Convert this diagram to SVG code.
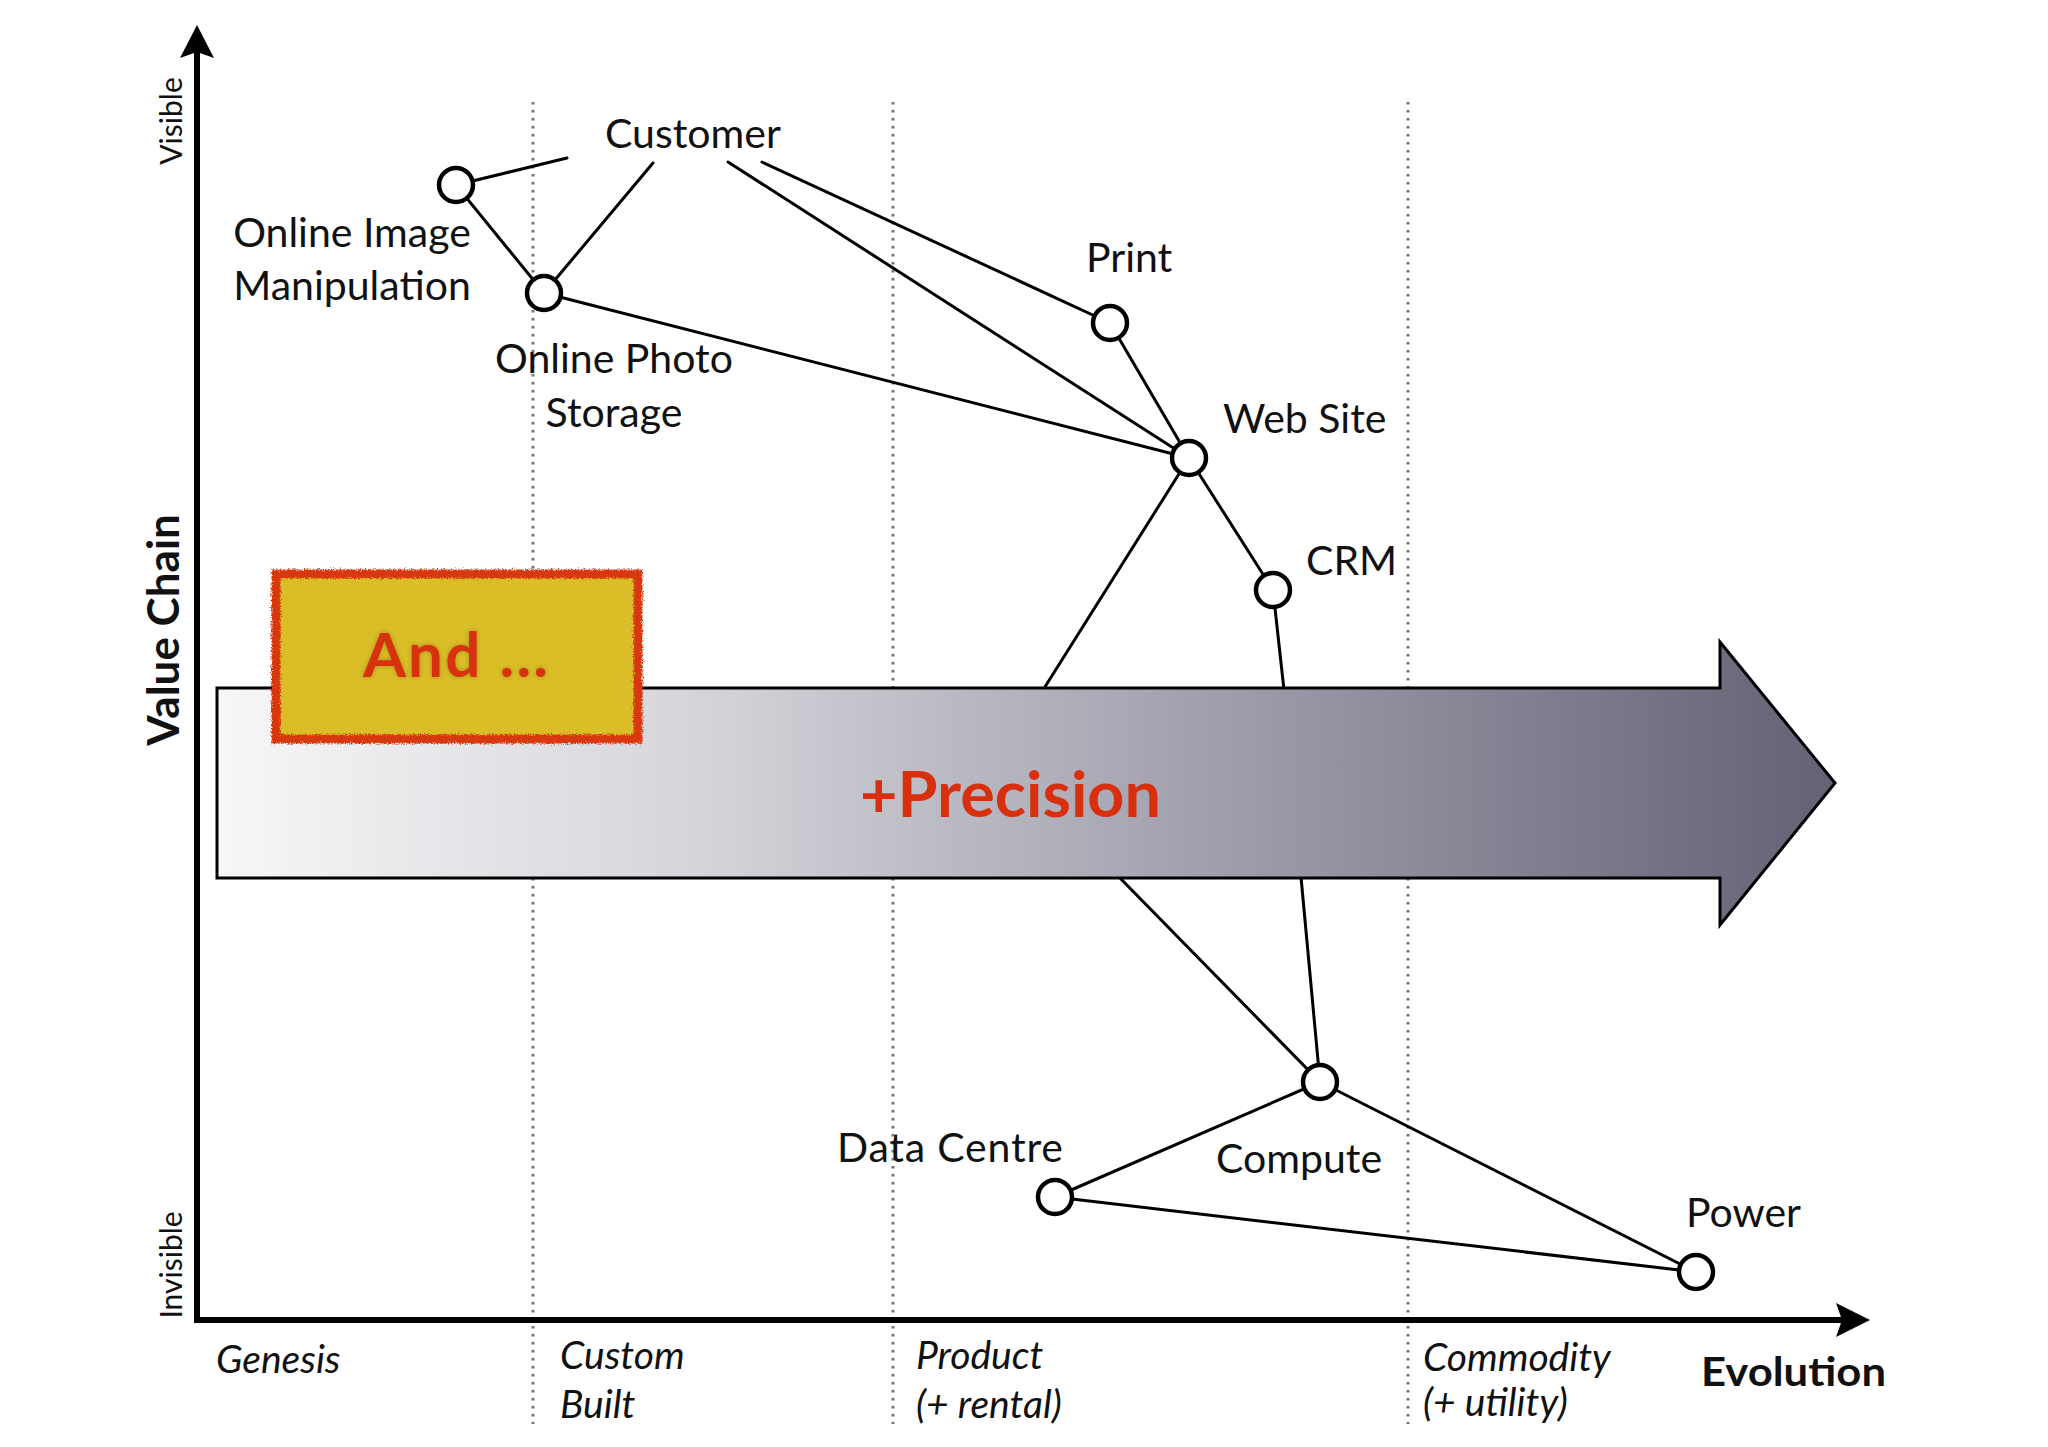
<svg xmlns="http://www.w3.org/2000/svg" width="2048" height="1447" viewBox="0 0 2048 1447">
  <defs>
    <linearGradient id="arrowGrad" gradientUnits="userSpaceOnUse" x1="217" y1="0" x2="1835" y2="0">
      <stop offset="0" stop-color="#f7f7f8"/>
      <stop offset="0.3" stop-color="#d4d4da"/>
      <stop offset="0.6" stop-color="#a2a1ae"/>
      <stop offset="1" stop-color="#636275"/>
    </linearGradient>
    <filter id="rough" x="-5%" y="-10%" width="110%" height="120%">
      <feTurbulence type="fractalNoise" baseFrequency="0.7" numOctaves="2" seed="3" result="noise"/>
      <feDisplacementMap in="SourceGraphic" in2="noise" scale="6" xChannelSelector="R" yChannelSelector="G"/>
    </filter>
    <filter id="glow" x="-10%" y="-20%" width="120%" height="140%">
      <feGaussianBlur in="SourceAlpha" stdDeviation="2.5" result="b"/>
      <feFlood flood-color="#6d6a1c" flood-opacity="0.55"/>
      <feComposite in2="b" operator="in" result="s"/>
      <feMerge><feMergeNode in="s"/><feMergeNode in="SourceGraphic"/></feMerge>
    </filter>
  </defs>
  <style>
    .lbl { font-family: Lato, "Open Sans", "Liberation Sans", sans-serif; font-size: 41px; fill: #111; }
    .stage { font-family: Lato, "Open Sans", "Liberation Sans", sans-serif; font-size: 39px; font-style: italic; fill: #111; }
    .axislbl { font-family: Lato, "Open Sans", "Liberation Sans", sans-serif; font-size: 30px; fill: #111; }
    .axisbold { font-family: Lato, "Open Sans", "Liberation Sans", sans-serif; font-weight: bold; fill: #111; }
    .node { fill: #fff; stroke: #000; stroke-width: 4.5; }
    .link { stroke: #000; stroke-width: 3; fill: none; stroke-linecap: round; }
    .grid { stroke: #777; stroke-width: 3; stroke-dasharray: 2.5 5.5; fill: none; }
    .axis { stroke: #000; stroke-width: 6; fill: none; }
    .red { font-family: "Comic Sans MS", Lato, "Open Sans", sans-serif; font-weight: bold; fill: #d8300e; }
  </style>

  <rect width="2048" height="1447" fill="#fff"/>

  <!-- stage dividers -->
  <g id="grid">
    <line class="grid" x1="533" y1="102" x2="533" y2="1424"/>
    <line class="grid" x1="893" y1="102" x2="893" y2="1424"/>
    <line class="grid" x1="1408" y1="102" x2="1408" y2="1424"/>
  </g>

  <!-- axes -->
  <g id="axes">
    <line class="axis" x1="197" y1="1320" x2="197" y2="50"/>
    <path d="M197,25 L214,58 L197,52 L180,58 Z" fill="#000"/>
    <line class="axis" x1="194" y1="1320" x2="1845" y2="1320"/>
    <path d="M1870,1320 L1836,1303 L1842,1320 L1836,1337 Z" fill="#000"/>
    <text class="axislbl" transform="translate(182,121) rotate(-90)" text-anchor="middle">Visible</text>
    <text class="axislbl" transform="translate(182,1265) rotate(-90)" text-anchor="middle">Invisible</text>
    <text class="axisbold" font-size="44" transform="translate(179,630) rotate(-90)" text-anchor="middle">Value Chain</text>
    <text class="axisbold" font-size="41" x="1701" y="1386" textLength="185" lengthAdjust="spacingAndGlyphs">Evolution</text>
  </g>

  <!-- stage labels -->
  <g id="stages">
    <text class="stage" x="216" y="1373">Genesis</text>
    <text class="stage" x="560" y="1369">Custom</text>
    <text class="stage" x="560" y="1418">Built</text>
    <text class="stage" x="916" y="1369">Product</text>
    <text class="stage" x="916" y="1418">(+ rental)</text>
    <text class="stage" x="1423" y="1371">Commodity</text>
    <text class="stage" x="1423" y="1416">(+ utility)</text>
  </g>

  <!-- connectors -->
  <g id="connectors">
    <line class="link" x1="456" y1="185" x2="567" y2="158"/>
    <line class="link" x1="456" y1="185" x2="544" y2="293"/>
    <line class="link" x1="544" y1="293" x2="653" y2="163"/>
    <line class="link" x1="728" y1="162" x2="1189" y2="458"/>
    <line class="link" x1="762" y1="162" x2="1110" y2="323"/>
    <line class="link" x1="544" y1="293" x2="1189" y2="458"/>
    <line class="link" x1="1110" y1="323" x2="1189" y2="458"/>
    <line class="link" x1="1189" y1="458" x2="1043" y2="690"/>
    <line class="link" x1="1189" y1="458" x2="1273" y2="590"/>
    <line class="link" x1="1273" y1="590" x2="1284" y2="690"/>
    <line class="link" x1="1119" y1="877" x2="1320" y2="1082"/>
    <line class="link" x1="1301" y1="877" x2="1320" y2="1082"/>
    <line class="link" x1="1320" y1="1082" x2="1055" y2="1197"/>
    <line class="link" x1="1320" y1="1082" x2="1696" y2="1272"/>
    <line class="link" x1="1055" y1="1197" x2="1696" y2="1272"/>
  </g>

  <!-- big evolution arrow -->
  <g id="precision-arrow">
    <polygon points="217,688 1720,688 1720,642 1835,783 1720,925 1720,878 217,878" fill="url(#arrowGrad)" stroke="#000" stroke-width="3" stroke-linejoin="miter"/>
    <text class="red" x="860" y="817" font-size="64" textLength="301" lengthAdjust="spacingAndGlyphs">+Precision</text>
  </g>

  <!-- And ... note -->
  <g id="and-note">
    <rect x="276" y="574" width="362" height="165" fill="#dbbe27"/>
    <rect x="276" y="574" width="362" height="165" fill="none" stroke="#d8380f" stroke-width="9" filter="url(#rough)"/>
    <text class="red" x="363" y="677" font-size="62" font-weight="normal" filter="url(#glow)" textLength="185" lengthAdjust="spacing">And ...</text>
  </g>

  <!-- nodes -->
  <g id="node-customer">
    <text class="lbl" x="605" y="148">Customer</text>
  </g>
  <g id="node-online-image-manipulation">
    <circle class="node" cx="456" cy="185" r="17"/>
    <text class="lbl" x="352" y="247" text-anchor="middle">Online Image</text>
    <text class="lbl" x="352" y="300" text-anchor="middle">Manipulation</text>
  </g>
  <g id="node-online-photo-storage">
    <circle class="node" cx="544" cy="293" r="17"/>
    <text class="lbl" x="614" y="373" text-anchor="middle">Online Photo</text>
    <text class="lbl" x="614" y="427" text-anchor="middle">Storage</text>
  </g>
  <g id="node-print">
    <circle class="node" cx="1110" cy="323" r="17"/>
    <text class="lbl" x="1086" y="272">Print</text>
  </g>
  <g id="node-web-site">
    <circle class="node" cx="1189" cy="458" r="17"/>
    <text class="lbl" x="1223" y="433">Web Site</text>
  </g>
  <g id="node-crm">
    <circle class="node" cx="1273" cy="590" r="17"/>
    <text class="lbl" x="1306" y="575">CRM</text>
  </g>
  <g id="node-compute">
    <circle class="node" cx="1320" cy="1082" r="17"/>
    <text class="lbl" x="1216" y="1173">Compute</text>
  </g>
  <g id="node-data-centre">
    <circle class="node" cx="1055" cy="1197" r="17"/>
    <text class="lbl" x="837" y="1162" textLength="226" lengthAdjust="spacing">Data Centre</text>
  </g>
  <g id="node-power">
    <circle class="node" cx="1696" cy="1272" r="17"/>
    <text class="lbl" x="1686" y="1227">Power</text>
  </g>
</svg>
